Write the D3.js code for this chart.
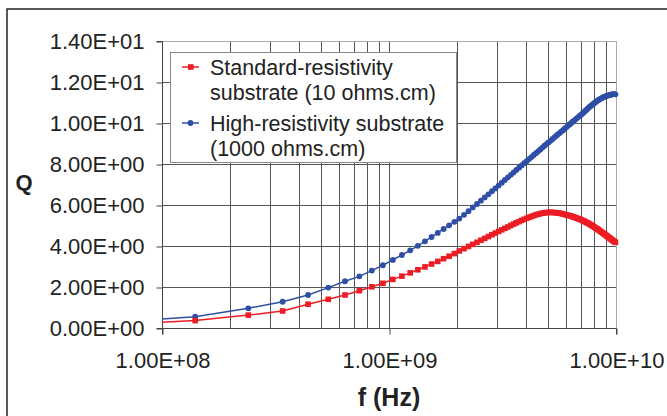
<!DOCTYPE html>
<html><head><meta charset="utf-8">
<script src="https://cdn.jsdelivr.net/npm/d3@7"></script>
<style>
html,body{margin:0;padding:0;background:#fff;}
svg{display:block;font-family:"Liberation Sans",Arial,sans-serif;}
.tick text{font-size:22px;font-family:"Liberation Sans",Arial,sans-serif;fill:#222;}
</style></head>
<body><svg id="c" width="667" height="416"></svg>
<script>
// Frequencies in GHz
const freqGHz = [0.04,0.14,0.24,0.34,0.44,0.54,0.64,0.74,0.84,0.94,
1.04,1.14,1.24,1.34,1.44,1.54,1.64,1.74,1.84,1.94,
2.04,2.14,2.24,2.34,2.44,2.54,2.64,2.74,2.84,2.94,
3.04,3.14,3.24,3.34,3.44,3.54,3.64,3.74,3.84,3.94,
4.04,4.14,4.24,4.34,4.44,4.54,4.64,4.74,4.84,4.94,
5.04,5.14,5.24,5.34,5.44,5.54,5.64,5.74,5.84,5.94,
6.04,6.14,6.24,6.34,6.44,6.54,6.64,6.74,6.84,6.94,
7.04,7.14,7.24,7.34,7.44,7.54,7.64,7.74,7.84,7.94,
8.04,8.14,8.24,8.34,8.44,8.54,8.64,8.74,8.84,8.94,
9.04,9.14,9.24,9.34,9.44,9.54,9.64,9.74,9.84,9.94];

const qStandard = [0.05,0.36,0.63,0.83,1.16,1.40,1.61,1.82,2.01,2.18,
2.37,2.53,2.69,2.84,2.98,3.12,3.25,3.38,3.50,3.63,
3.76,3.87,3.98,4.08,4.18,4.28,4.37,4.46,4.55,4.63,
4.71,4.79,4.86,4.93,5.00,5.07,5.13,5.19,5.25,5.30,
5.35,5.40,5.44,5.48,5.52,5.55,5.58,5.60,5.62,5.63,
5.64,5.64,5.64,5.63,5.62,5.61,5.60,5.58,5.56,5.54,
5.52,5.50,5.48,5.46,5.43,5.41,5.38,5.35,5.33,5.30,
5.27,5.24,5.21,5.17,5.14,5.11,5.07,5.03,5.00,4.96,
4.92,4.88,4.84,4.80,4.76,4.72,4.68,4.64,4.60,4.56,
4.52,4.48,4.44,4.40,4.36,4.32,4.28,4.25,4.21,4.18];

const qHigh = [0.12,0.55,0.96,1.28,1.61,1.97,2.28,2.52,2.80,3.06,
3.32,3.56,3.79,4.01,4.23,4.44,4.64,4.83,5.01,5.18,
5.34,5.52,5.70,5.88,6.05,6.21,6.37,6.52,6.67,6.81,
6.95,7.09,7.22,7.35,7.47,7.59,7.71,7.82,7.93,8.04,
8.14,8.24,8.34,8.44,8.53,8.62,8.71,8.80,8.89,8.97,
9.05,9.13,9.21,9.29,9.37,9.44,9.51,9.58,9.65,9.72,
9.79,9.86,9.93,9.99,10.06,10.12,10.18,10.24,10.30,10.36,
10.42,10.48,10.54,10.60,10.66,10.72,10.78,10.83,10.88,10.93,
10.98,11.03,11.07,11.11,11.15,11.18,11.21,11.24,11.27,11.29,
11.31,11.33,11.35,11.36,11.37,11.39,11.40,11.41,11.41,11.40];

const yTicks = [0,2,4,6,8,10,12,14];
const yTickLabels = ["0.00E+00","2.00E+00","4.00E+00","6.00E+00","8.00E+00","1.00E+01","1.20E+01","1.40E+01"];
const xTicks = [1e8,1e9,1e10];
const xTickLabels = ["1.00E+08","1.00E+09","1.00E+10"];
const seriesNames = [["Standard-resistivity","substrate (10 ohms.cm)"],["High-resistivity substrate","(1000 ohms.cm)"]];

const RED = "#ec1c24", BLUE = "#2f4ea6";
const svg = d3.select("#c");
const L = 162, R = 616, T = 41, B = 328;
const x = d3.scaleLog().domain([1e8,1e10]).range([L,R]);
const y = d3.scaleLinear().domain([0,14]).range([B,T]);

// outer frame
svg.append("rect").attr("x",7).attr("y",9).attr("width",720).attr("height",500)
  .attr("fill","none").attr("stroke","#222").attr("stroke-width",1.5);

// grid
const minor = [];
[1e8,1e9].forEach(d=>{for(let k=1;k<10;k++) minor.push(k*d);});
minor.push(1e10);
const g = svg.append("g");
g.selectAll("line.v").data(minor).join("line")
  .attr("x1",d=>Math.round(x(d))+0.5).attr("x2",d=>Math.round(x(d))+0.5)
  .attr("y1",T).attr("y2",B)
  .attr("stroke",d=>d===1e10?"#aaa":"#555").attr("stroke-width",1);
g.selectAll("line.h").data(yTicks).join("line")
  .attr("x1",L).attr("x2",R)
  .attr("y1",d=>Math.round(y(d))+0.5).attr("y2",d=>Math.round(y(d))+0.5)
  .attr("stroke",d=>d===14?"#aaa":"#555").attr("stroke-width",1);

// axes
const yAxis = d3.axisLeft(y).tickValues(yTicks).tickSize(6).tickPadding(12)
  .tickFormat((d,i)=>yTickLabels[i]);
const ya = svg.append("g").attr("transform",`translate(${L+0.5},0.5)`).call(yAxis);
const xAxis = d3.axisBottom(x).tickValues(xTicks).tickSize(6).tickPadding(18)
  .tickFormat((d,i)=>xTickLabels[i]);
const xa = svg.append("g").attr("transform",`translate(0.5,${B+0.5})`).call(xAxis);
[ya,xa].forEach(a=>{
  a.attr("font-size",22).attr("font-family","Liberation Sans, Arial, sans-serif");
  a.select(".domain").attr("stroke","#444");
  a.selectAll(".tick line").attr("stroke","#444");
  a.selectAll(".tick text").style("font-size","22px").style("fill","#222");
});
ya.select(".domain").attr("d",`M-6,${T}H0V${B}H-6`);
xa.select(".domain").attr("d",`M${L},6V0H${R}V6`);

// titles
svg.append("text").attr("x",389).attr("y",406).attr("text-anchor","middle")
  .attr("font-weight","bold").attr("font-size","25px").attr("fill","#222").text("f (Hz)");
svg.append("text").attr("x",24).attr("y",190).attr("text-anchor","middle")
  .attr("font-weight","bold").attr("font-size","22px").attr("fill","#222").text("Q");

// clip
svg.append("clipPath").attr("id","clip").append("rect")
  .attr("x",L).attr("y",T-10).attr("width",R-L+10).attr("height",B-T+10);

const line = d3.line().x(d=>x(d[0]*1e9)).y(d=>y(d[1]));
const dRed = freqGHz.map((f,i)=>[f,qStandard[i]]);
const dBlue = freqGHz.map((f,i)=>[f,qHigh[i]]);
const series = svg.append("g").attr("clip-path","url(#clip)");

series.append("path").datum(dBlue).attr("d",line).attr("fill","none")
  .attr("stroke",BLUE).attr("stroke-width",1.5);
series.selectAll("circle.b").data(dBlue).join("circle")
  .attr("cx",d=>x(d[0]*1e9)).attr("cy",d=>y(d[1])).attr("r",2.9).attr("fill",BLUE);

series.append("path").datum(dRed).attr("d",line).attr("fill","none")
  .attr("stroke",RED).attr("stroke-width",1.5);
series.selectAll("rect.r").data(dRed).join("rect")
  .attr("x",d=>x(d[0]*1e9)-2.8).attr("y",d=>y(d[1])-2.8).attr("width",5.6).attr("height",5.6)
  .attr("fill",RED);

// legend
const lg = svg.append("g");
lg.append("rect").attr("x",170.5).attr("y",52.5).attr("width",286).attr("height",110)
  .attr("fill","#fff").attr("stroke","#888").attr("stroke-width",1);
const legY = [67,123];
const colors = [RED,BLUE];
seriesNames.forEach((lines,i)=>{
  lg.append("line").attr("x1",182).attr("x2",199).attr("y1",legY[i]).attr("y2",legY[i])
    .attr("stroke",colors[i]).attr("stroke-width",1.5);
  if(i===0) lg.append("rect").attr("x",188).attr("y",legY[i]-2.8).attr("width",5.6).attr("height",5.6).attr("fill",RED);
  else lg.append("circle").attr("cx",190.5).attr("cy",legY[i]).attr("r",2.9).attr("fill",BLUE);
  lines.forEach((t,j)=>{
    lg.append("text").attr("x",210).attr("y",legY[i]+8+j*25).attr("font-size","21.5px")
      .attr("fill","#222").text(t);
  });
});
</script></body></html>
